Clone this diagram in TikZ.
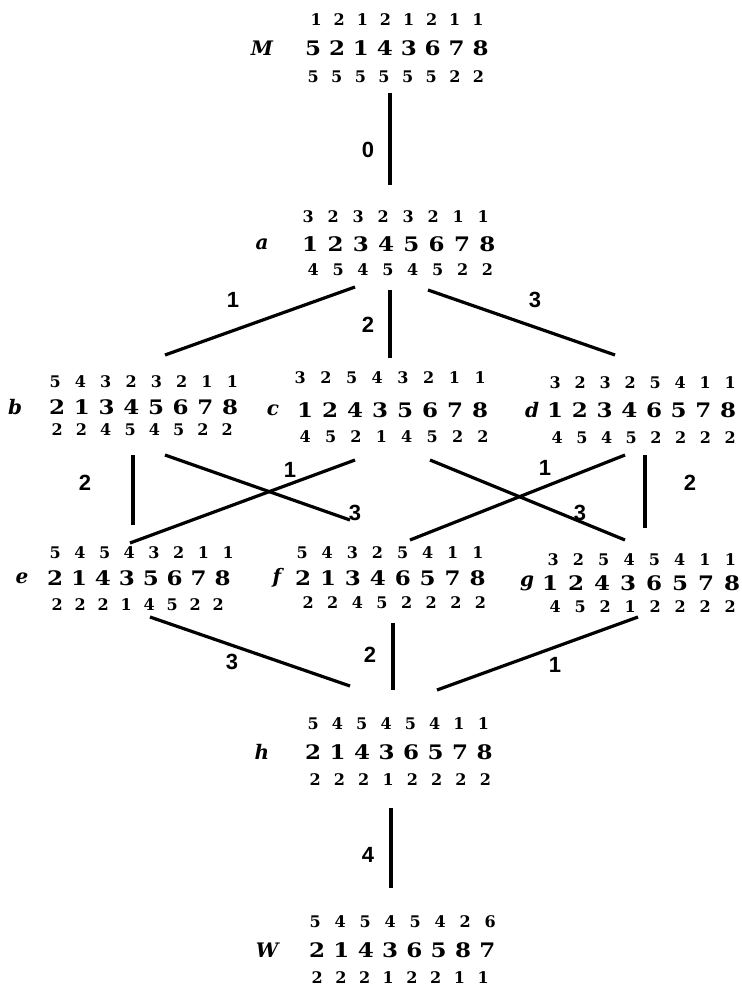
\documentclass[tikz,border=0pt]{standalone}
\usepackage{fontspec}
\newfontfamily\digfont{DejaVu Serif}[FakeStretch=1.15]
\newfontfamily\smfont{DejaVu Serif}
\newfontfamily\labfont{DejaVu Serif}
\newfontfamily\edfont{Liberation Sans}
\newcommand{\prow}[9]{\makebox[#1][c]{#2}\makebox[#1][c]{#3}\makebox[#1][c]{#4}\makebox[#1][c]{#5}\makebox[#1][c]{#6}\makebox[#1][c]{#7}\makebox[#1][c]{#8}\makebox[#1][c]{#9}}
\tikzset{
  midrow/.style={inner sep=0pt, anchor=west, font=\digfont\bfseries\fontsize{20}{20}\selectfont},
  smrow/.style={inner sep=0pt, anchor=west, font=\smfont\bfseries\fontsize{16}{16}\selectfont},
  permlab/.style={inner sep=0pt, font=\labfont\bfseries\itshape\fontsize{20}{20}\selectfont},
  edlab/.style={inner sep=0pt, font=\edfont\bfseries\fontsize{22}{22}\selectfont},
  edge/.style={line width=3.2pt}
}
\newcommand{\permrow}[6]{\node[#2] (#1) at ({#3-#4/2},#5) {\prow{#4pt}#6};}
\begin{document}
\begin{tikzpicture}[x=1pt,y=-1pt]
\useasboundingbox[fill=white] (0,0) rectangle (741,995);
% M
\node[permlab] (M) at (262,48) {M};
\permrow{M-t}{smrow}{316}{23.1}{20}{12121211}
\permrow{M-m}{midrow}{313}{23.9}{48}{52143678}
\permrow{M-b}{smrow}{313}{23.6}{77}{55555522}
% a
\node[permlab] (a) at (262,244) {a};
\permrow{a-t}{smrow}{308}{25}{217}{32323211}
\permrow{a-m}{midrow}{310}{25.3}{244}{12345678}
\permrow{a-b}{smrow}{313}{24.9}{270}{45454522}
% b
\node[permlab] (b) at (15,407) {b};
\permrow{b-t}{smrow}{55}{25.3}{382}{54323211}
\permrow{b-m}{midrow}{57}{24.7}{407}{21345678}
\permrow{b-b}{smrow}{57}{24.3}{430}{22454522}
% c
\node[permlab] (c) at (273,410) {c};
\permrow{c-t}{smrow}{300}{25.7}{378}{32543211}
\permrow{c-m}{midrow}{305}{25}{410}{12435678}
\permrow{c-b}{smrow}{305}{25.4}{437}{45214522}
% d
\node[permlab] (d) at (532,410) {d};
\permrow{d-t}{smrow}{555}{25}{383}{32325411}
\permrow{d-m}{midrow}{555}{24.7}{410}{12346578}
\permrow{d-b}{smrow}{557}{24.7}{438}{45452222}
% e
\node[permlab] (e) at (22,578) {e};
\permrow{e-t}{smrow}{55}{24.7}{553}{54543211}
\permrow{e-m}{midrow}{55}{23.9}{578}{21435678}
\permrow{e-b}{smrow}{57}{23}{605}{22214522}
% f
\node[permlab] (f) at (277,578) {f};
\permrow{f-t}{smrow}{302}{25.1}{553}{54325411}
\permrow{f-m}{midrow}{303}{24.9}{578}{21346578}
\permrow{f-b}{smrow}{308}{24.6}{603}{22452222}
% g
\node[permlab] (g) at (527,583) {g};
\permrow{g-t}{smrow}{553}{25.3}{560}{32545411}
\permrow{g-m}{midrow}{550}{26}{583}{12436578}
\permrow{g-b}{smrow}{555}{25}{607}{45212222}
% h
\node[permlab] (h) at (262,752) {h};
\permrow{h-t}{smrow}{313}{24.3}{724}{54545411}
\permrow{h-m}{midrow}{313}{24.5}{752}{21436578}
\permrow{h-b}{smrow}{315}{24.3}{780}{22212222}
% W
\node[permlab] (W) at (267,950) {W};
\permrow{W-t}{smrow}{315}{25}{922}{54545426}
\permrow{W-m}{midrow}{317}{24.3}{950}{21436587}
\permrow{W-b}{smrow}{317}{23.7}{978}{22212211}
% connector end points
\coordinate (Ma1) at (390,93);  \coordinate (Ma2) at (390,185);
\coordinate (ab1) at (355,287); \coordinate (ab2) at (165,355);
\coordinate (ac1) at (390,290); \coordinate (ac2) at (390,358);
\coordinate (ad1) at (428,290); \coordinate (ad2) at (615,355);
\coordinate (be1) at (133,455); \coordinate (be2) at (133,525);
\coordinate (bf1) at (165,455); \coordinate (bf2) at (350,520);
\coordinate (ce1) at (355,460); \coordinate (ce2) at (130,543);
\coordinate (cg1) at (430,460); \coordinate (cg2) at (625,540);
\coordinate (df1) at (625,455); \coordinate (df2) at (410,540);
\coordinate (dg1) at (645,455); \coordinate (dg2) at (645,528);
\coordinate (eh1) at (150,617); \coordinate (eh2) at (350,686);
\coordinate (fh1) at (393,623); \coordinate (fh2) at (393,690);
\coordinate (gh1) at (638,617); \coordinate (gh2) at (437,690);
\coordinate (hW1) at (391,808); \coordinate (hW2) at (391,888);
\draw[edge] (Ma1) -- (Ma2);
\draw[edge] (ab1) -- (ab2);
\draw[edge] (ac1) -- (ac2);
\draw[edge] (ad1) -- (ad2);
\draw[edge] (be1) -- (be2);
\draw[edge] (bf1) -- (bf2);
\draw[edge] (ce1) -- (ce2);
\draw[edge] (cg1) -- (cg2);
\draw[edge] (df1) -- (df2);
\draw[edge] (dg1) -- (dg2);
\draw[edge] (eh1) -- (eh2);
\draw[edge] (fh1) -- (fh2);
\draw[edge] (gh1) -- (gh2);
\draw[edge] (hW1) -- (hW2);
% edge labels
\node[edlab] (l0) at (368,150) {0};
\node[edlab] (lab) at (233,300) {1};
\node[edlab] (lac) at (368,325) {2};
\node[edlab] (lad) at (535,300) {3};
\node[edlab] (lbe) at (85,483) {2};
\node[edlab] (lce) at (290,470) {1};
\node[edlab] (lbf) at (355,513) {3};
\node[edlab] (ldf) at (545,468) {1};
\node[edlab] (lcg) at (580,513) {3};
\node[edlab] (ldg) at (690,483) {2};
\node[edlab] (leh) at (232,662) {3};
\node[edlab] (lfh) at (370,655) {2};
\node[edlab] (lgh) at (555,665) {1};
\node[edlab] (lhW) at (368,855) {4};
\end{tikzpicture}
\end{document}
